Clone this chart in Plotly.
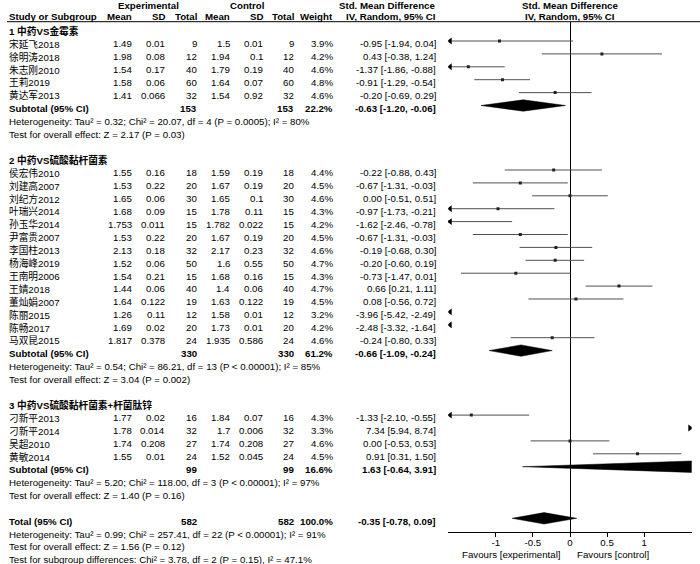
import plotly.graph_objects as go

# data
group_titles = ["1 中药VS金霉素", "2 中药VS硫酸黏杆菌素", "3 中药VS硫酸黏杆菌素+杆菌肽锌"]

study = ["宋延飞2018", "徐明涛2018", "朱志刚2010", "王莉2019", "黄达军2013",
         "侯宏伟2010", "刘建高2007", "刘纪方2012", "叶瑞兴2014", "孙玉华2014", "尹富贵2007",
         "李国柱2013", "杨海峰2019", "王南明2006", "王婧2018", "董灿娟2007", "陈丽2015",
         "陈畅2017", "马双昆2015",
         "刁新平2013", "刁新平2014", "吴超2010", "黄敏2014"]
group_of = [1] * 5 + [2] * 14 + [3] * 4

exp_mean = [1.49, 1.98, 1.54, 1.58, 1.41,
            1.55, 1.53, 1.65, 1.68, 1.753, 1.53, 2.13, 1.52, 1.54, 1.44, 1.64, 1.26, 1.69, 1.817,
            1.77, 1.78, 1.74, 1.55]
exp_sd = [0.01, 0.08, 0.17, 0.06, 0.066,
          0.16, 0.22, 0.06, 0.09, 0.011, 0.22, 0.18, 0.06, 0.21, 0.06, 0.122, 0.11, 0.02, 0.378,
          0.02, 0.014, 0.208, 0.01]
exp_n = [9, 12, 40, 60, 32,
         18, 20, 30, 15, 15, 20, 32, 50, 15, 40, 19, 12, 20, 24,
         16, 32, 27, 24]
ctl_mean = [1.5, 1.94, 1.79, 1.64, 1.54,
            1.59, 1.67, 1.65, 1.78, 1.782, 1.67, 2.17, 1.6, 1.68, 1.4, 1.63, 1.58, 1.73, 1.935,
            1.84, 1.7, 1.74, 1.52]
ctl_sd = [0.01, 0.1, 0.19, 0.07, 0.92,
          0.19, 0.19, 0.1, 0.11, 0.022, 0.19, 0.23, 0.55, 0.16, 0.06, 0.122, 0.01, 0.01, 0.586,
          0.07, 0.006, 0.208, 0.045]
ctl_n = [9, 12, 40, 60, 32,
         18, 20, 30, 15, 15, 20, 32, 50, 15, 40, 19, 12, 20, 24,
         16, 32, 27, 24]
weight = [3.9, 4.2, 4.6, 4.8, 4.6,
          4.4, 4.5, 4.6, 4.3, 4.2, 4.5, 4.6, 4.7, 4.3, 4.7, 4.5, 3.2, 4.2, 4.6,
          4.3, 3.3, 4.6, 4.5]
smd = [-0.95, 0.43, -1.37, -0.91, -0.20,
       -0.22, -0.67, 0.00, -0.97, -1.62, -0.67, -0.19, -0.20, -0.73, 0.66, 0.08, -3.96, -2.48, -0.24,
       -1.33, 7.34, 0.00, 0.91]
ci_lo = [-1.94, -0.38, -1.86, -1.29, -0.69,
         -0.88, -1.31, -0.51, -1.73, -2.46, -1.31, -0.68, -0.60, -1.47, 0.21, -0.56, -5.42, -3.32, -0.80,
         -2.10, 5.94, -0.53, 0.31]
ci_hi = [0.04, 1.24, -0.88, -0.54, 0.29,
         0.43, -0.03, 0.51, -0.21, -0.78, -0.03, 0.30, 0.19, 0.01, 1.11, 0.72, -2.49, -1.64, 0.33,
         -0.55, 8.74, 0.53, 1.50]

sub_n_exp = [153, 330, 99]
sub_n_ctl = [153, 330, 99]
sub_weight = [22.2, 61.2, 16.6]
sub_smd = [-0.63, -0.66, 1.63]
sub_lo = [-1.20, -1.09, -0.64]
sub_hi = [-0.06, -0.24, 3.91]
sub_het = ["Heterogeneity: Tau² = 0.32; Chi² = 20.07, df = 4 (P = 0.0005); I² = 80%",
           "Heterogeneity: Tau² = 0.54; Chi² = 86.21, df = 13 (P < 0.00001); I² = 85%",
           "Heterogeneity: Tau² = 5.20; Chi² = 118.00, df = 3 (P < 0.00001); I² = 97%"]
sub_test = ["Test for overall effect: Z = 2.17 (P = 0.03)",
            "Test for overall effect: Z = 3.04 (P = 0.002)",
            "Test for overall effect: Z = 1.40 (P = 0.16)"]

total_n_exp = 582
total_n_ctl = 582
total_weight = 100.0
total_smd = -0.35
total_lo = -0.78
total_hi = 0.09
total_notes = ["Heterogeneity: Tau² = 0.99; Chi² = 257.41, df = 22 (P < 0.00001); I² = 91%",
               "Test for overall effect: Z = 1.56 (P = 0.12)",
               "Test for subgroup differences: Chi² = 3.78, df = 2 (P = 0.15), I² = 47.1%"]

tick_vals = [-1, -0.5, 0, 0.5, 1]
tick_text = ["-1", "-0.5", "0", "0.5", "1"]

# layout constants (pixels in a 700x564 page)
W, H = 700, 564
X_MIN, X_MAX = -1.64, 1.64
ROW0, ROW_H = 28.1, 12.9      # pixel y of row 0 marks, row height
TXT_OFF = 0.22                # text sits slightly below the marks
RULE_Y, AXIS_Y = 21.7, 532.3
FONT = "Liberation Sans, Arial, Noto Sans CJK SC, sans-serif"
FS = 9.7
LINE_COL = "#505050"
HALF_D = 0.44                 # diamond half height in rows

# right edges of the numeric columns
COL_X = [134, 167, 199, 232, 265, 296, 335]
CI_X = 438


def row_of(ypx):
    return (ypx - ROW0) / ROW_H


def paper_y(row):
    return 1 - (ROW0 + ROW_H * row) / H


annotations = []


def txt(xpx, row, s, anchor="right", bold=False):
    if bold:
        s = f"<b>{s}</b>"
    annotations.append(dict(x=xpx / W, y=paper_y(row), xref="paper", yref="paper", text=s,
                            xanchor=anchor, yanchor="middle", showarrow=False,
                            font=dict(family=FONT, size=FS, color="black")))


def ci_text(est, lo, hi):
    return f"{est:.2f} [{lo:.2f}, {hi:.2f}]"


# column headers
hy1, hy2 = row_of(5.5), row_of(16.5)
txt(148, hy1, "Experimental", "center", True)
txt(247, hy1, "Control", "center", True)
txt(387, hy1, "Std. Mean Difference", "center", True)
txt(570, hy1, "Std. Mean Difference", "center", True)
txt(7, hy2, "Study or Subgroup", "left", True)
for xpx, s in zip(COL_X, ["Mean", "SD", "Total", "Mean", "SD", "Total", "Weight"]):
    txt(xpx, hy2, s, "right", True)
txt(CI_X, hy2, "IV, Random, 95% CI", "right", True)
txt(570, hy2, "IV, Random, 95% CI", "center", True)

fig = go.Figure()

line_x, line_y = [], []
pt_x, pt_y = [], []
left_y, right_y = [], []
diamonds = []

r = 0
for g, title in enumerate(group_titles, start=1):
    txt(7, r + TXT_OFF, title, "left", True)
    r += 1
    for i in [k for k, gg in enumerate(group_of) if gg == g]:
        ty = r + TXT_OFF
        txt(7, ty, study[i], "left")
        vals = [exp_mean[i], exp_sd[i], exp_n[i], ctl_mean[i], ctl_sd[i], ctl_n[i]]
        for xpx, v in zip(COL_X, vals):
            txt(xpx, ty, str(v))
        txt(COL_X[6], ty, f"{weight[i]:.1f}%")
        txt(CI_X, ty, ci_text(smd[i], ci_lo[i], ci_hi[i]))
        line_x += [ci_lo[i], ci_hi[i], None]
        line_y += [r, r, None]
        pt_x.append(smd[i])
        pt_y.append(r)
        if ci_lo[i] < X_MIN:
            left_y.append(r)
        if ci_hi[i] > X_MAX:
            right_y.append(r)
        r += 1
    k = g - 1
    ty = r + TXT_OFF
    txt(7, ty, "Subtotal (95% CI)", "left", True)
    txt(COL_X[2], ty, str(sub_n_exp[k]), bold=True)
    txt(COL_X[5], ty, str(sub_n_ctl[k]), bold=True)
    txt(COL_X[6], ty, f"{sub_weight[k]:.1f}%", bold=True)
    txt(CI_X, ty, ci_text(sub_smd[k], sub_lo[k], sub_hi[k]), bold=True)
    diamonds.append((sub_lo[k], sub_smd[k], sub_hi[k], r))
    r += 1
    txt(7, r + TXT_OFF, sub_het[k], "left")
    r += 1
    txt(7, r + TXT_OFF, sub_test[k], "left")
    r += 2

ty = r + TXT_OFF
txt(7, ty, "Total (95% CI)", "left", True)
txt(COL_X[2], ty, str(total_n_exp), bold=True)
txt(COL_X[5], ty, str(total_n_ctl), bold=True)
txt(COL_X[6], ty, f"{total_weight:.1f}%", bold=True)
txt(CI_X, ty, ci_text(total_smd, total_lo, total_hi), bold=True)
diamonds.append((total_lo, total_smd, total_hi, r))
r += 1
for note in total_notes:
    txt(7, r + TXT_OFF, note, "left")
    r += 1

# confidence intervals
fig.add_trace(go.Scatter(x=line_x, y=line_y, mode="lines",
                         line=dict(color=LINE_COL, width=1), hoverinfo="skip"))
fig.add_trace(go.Scatter(x=pt_x, y=pt_y, mode="markers",
                         marker=dict(symbol="square", size=3, color="#222")))
# arrows for intervals running off the panel
fig.add_trace(go.Scatter(x=[X_MIN + 0.025] * len(left_y), y=left_y, mode="markers",
                         marker=dict(symbol="triangle-left", size=6, color="black")))
fig.add_trace(go.Scatter(x=[X_MAX - 0.025] * len(right_y), y=right_y, mode="markers",
                         marker=dict(symbol="triangle-right", size=6, color="black")))
# pooled diamonds
for lo, est, hi, rr in diamonds:
    fig.add_trace(go.Scatter(x=[lo, est, hi, est, lo], y=[rr, rr - HALF_D, rr, rr + HALF_D, rr],
                             mode="lines", fill="toself", fillcolor="black",
                             line=dict(color="black", width=0.5), hoverinfo="skip"))

# Favours labels under the axis
fav_y = row_of(554)
txt(563, fav_y, "Favours [experimental]", "right")
txt(575, fav_y, "Favours [control]", "left")

y_top, y_bot = row_of(RULE_Y), row_of(AXIS_Y)
fig.update_layout(
    width=W, height=H,
    margin=dict(l=0, r=0, t=0, b=0),
    paper_bgcolor="white", plot_bgcolor="white",
    showlegend=False,
    font=dict(family=FONT, size=FS, color="black"),
    annotations=annotations,
    xaxis=dict(domain=[448.3 / W, 691.7 / W], range=[X_MIN, X_MAX],
               showgrid=False, showline=True, linecolor="black", linewidth=1,
               ticks="outside", ticklen=4, tickcolor="black",
               ticklabelstandoff=-3,
               tickvals=tick_vals, ticktext=tick_text,
               tickfont=dict(family=FONT, size=FS, color="black"),
               zeroline=True, zerolinecolor="black", zerolinewidth=1,
               fixedrange=True),
    yaxis=dict(domain=[1 - AXIS_Y / H, 1 - RULE_Y / H], range=[y_bot, y_top],
               visible=False, fixedrange=True),
    shapes=[dict(type="line", xref="paper", yref="paper", x0=7 / W, x1=1,
                 y0=1 - RULE_Y / H, y1=1 - RULE_Y / H,
                 line=dict(color="black", width=1))],
)

# the page's default 8px body margin would shift the figure
fig.write_html("out.html", config={"displayModeBar": False},
               post_script="document.body.style.margin = '0';")
